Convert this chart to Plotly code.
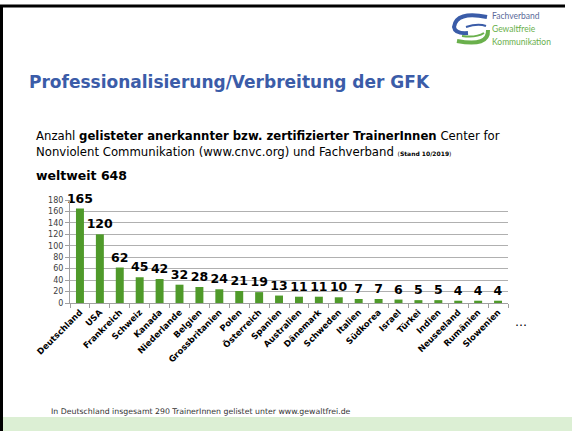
import plotly.graph_objects as go

W, H = 572, 431

countries = ["Deutschland", "USA", "Frankreich", "Schweiz", "Kanada", "Niederlande",
             "Belgien", "Grossbritanien", "Polen", "Österreich", "Spanien", "Australien",
             "Dänemark", "Schweden", "Italien", "Südkorea", "Israel", "Türkei", "Indien",
             "Neuseeland", "Rumänien", "Slowenien"]
trainers = [165, 120, 62, 45, 42, 32, 28, 24, 21, 19, 13, 11, 11, 10, 7, 7, 6, 5, 5, 4, 4, 4]
y_ticks = [0, 20, 40, 60, 80, 100, 120, 140, 160, 180]

FONT = "DejaVu Sans"
BAR_GREEN = "#4f9a2a"


def px(x):
    return x / W


def py(y):
    return 1 - y / H


fig = go.Figure()
fig.add_trace(go.Bar(
    x=countries, y=trainers,
    marker=dict(color=BAR_GREEN, line=dict(width=0)),
    text=[str(v) for v in trainers],
    textposition="outside",
    constraintext="none",
    cliponaxis=False,
    textfont=dict(family=FONT, size=12.5, color="#000000", weight="bold"),
    hoverinfo="skip",
))

fig.update_layout(
    width=W, height=H,
    autosize=False,
    margin=dict(l=0, r=0, t=0, b=0, pad=0, autoexpand=False),
    paper_bgcolor="white", plot_bgcolor="white",
    showlegend=False,
    bargap=0.6,
    font=dict(family=FONT),
    xaxis=dict(
        domain=[px(70), px(508)],
        type="category",
        automargin=False,
        tickangle=-45,
        tickfont=dict(family=FONT, size=8.5, color="#000000", weight="bold"),
        showline=True, linecolor="#a0a0a0", linewidth=1,
        ticks="outside", tickson="boundaries", ticklen=4, tickcolor="#a0a0a0",
        showgrid=False, fixedrange=True,
    ),
    yaxis=dict(
        domain=[py(303), py(200)],
        range=[0, 180],
        automargin=False,
        tickvals=y_ticks,
        tickfont=dict(family=FONT, size=8, color="#404040"),
        showline=True, linecolor="#a0a0a0", linewidth=1,
        ticks="outside", ticklen=4, tickcolor="#a0a0a0",
        showgrid=True, gridcolor="#b0b0b0", gridwidth=1,
        zeroline=False, fixedrange=True,
    ),
)

shapes = []
# slide frame
shapes.append(dict(type="line", xref="paper", yref="paper", x0=px(0), x1=px(565), y0=py(6), y1=py(6),
                   line=dict(color="#000000", width=3)))
shapes.append(dict(type="line", xref="paper", yref="paper", x0=px(1.5), x1=px(1.5), y0=py(5), y1=py(431),
                   line=dict(color="#000000", width=3)))
# footer band
shapes.append(dict(type="rect", xref="paper", yref="paper", x0=px(3), x1=px(572), y0=py(417), y1=py(431),
                   fillcolor="#dcefd4", line=dict(width=0), layer="below"))


def path(points_cmd):
    out = []
    for tok in points_cmd:
        if isinstance(tok, str):
            out.append(tok)
        else:
            out.append(f"{px(tok[0]):.5f},{py(tok[1]):.5f}")
    return " ".join(out)


# logo swooshes
shapes.append(dict(type="path", xref="paper", yref="paper",
                   path=path(["M", (487, 17), "Q", (456, 11), (454, 27), "Q", (455, 34), (468, 33)]),
                   line=dict(color="#3a5ca8", width=4)))
shapes.append(dict(type="path", xref="paper", yref="paper",
                   path=path(["M", (466, 27), "Q", (478, 23), (486, 26)]),
                   line=dict(color="#3a5ca8", width=2)))
shapes.append(dict(type="path", xref="paper", yref="paper",
                   path=path(["M", (457, 41), "Q", (489, 47), (488, 30)]),
                   line=dict(color="#6ab04c", width=4)))
shapes.append(dict(type="path", xref="paper", yref="paper",
                   path=path(["M", (462, 36), "Q", (476, 38), (484, 33)]),
                   line=dict(color="#6ab04c", width=2)))
fig.update_layout(shapes=shapes)

ann = []


def text(x, y, s, size, color="#000000", xanchor="left", bold=False, family=FONT):
    ann.append(dict(x=px(x), y=py(y), xref="paper", yref="paper", text=s, showarrow=False,
                    xanchor=xanchor, yanchor="middle",
                    font=dict(family=family, size=size, color=color, weight="bold" if bold else "normal")))


text(490, 16, "Fachverband", 8.5, "#5b6a9a", family="Lato")
text(490, 29, "Gewaltfreie", 8.5, "#6ab04c", family="Lato")
text(490, 42, "Kommunikation", 8.5, "#6ab04c", family="Lato")
text(27, 82, "Professionalisierung/Verbreitung der GFK", 17, "#3b5ca8", bold=True)
text(34, 136, "Anzahl <b>gelisteter anerkannter bzw. zertifizierter TrainerInnen</b> Center for", 11.7, "#000000")
text(34, 152, "Nonviolent Communikation (www.cnvc.org) und Fachverband "
              "<span style='font-size:6px'>(<b>Stand 10/2019</b>)</span>", 11.7, "#000000")
text(34, 175, "weltweit 648", 12.5, "#000000", bold=True)
text(513, 322, "…", 12, "#000000")
text(49, 411, "In Deutschland insgesamt 290 TrainerInnen gelistet unter www.gewaltfrei.de", 7.8, "#333333")
fig.update_layout(annotations=ann)

fig.write_html("out.html")
